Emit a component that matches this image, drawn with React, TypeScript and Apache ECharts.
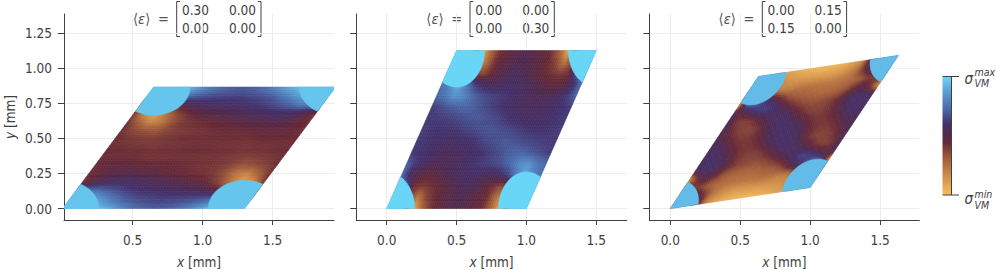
import React, { useEffect, useRef } from "react";
import * as echarts from "echarts";

const xTicks = [
  [0.5, 1.0, 1.5],
  [0.0, 0.5, 1.0, 1.5],
  [0.0, 0.5, 1.0, 1.5],
];
const yTicks = [0, 0.25, 0.5, 0.75, 1.0, 1.25];
const xLimits = [
  [0.01, 1.938],
  [-0.218, 1.718],
  [-0.15, 1.78],
];
const yLimits = [-0.082, 1.387];
const strains = [
  [[0.3, 0.0], [0.0, 0.0]],
  [[0.0, 0.0], [0.0, 0.3]],
  [[0.0, 0.15], [0.15, 0.0]],
];
const inclusionLevel = [96, 100, 94];
const colorStops: [number, string][] = [
  [0, "#f8bf5e"],
  [0.17, "#cc8b48"],
  [0.33, "#9a5538"],
  [0.44, "#662936"],
  [0.52, "#4f2a50"],
  [0.6, "#43306c"],
  [0.72, "#4a66a6"],
  [0.86, "#5a9ad2"],
  [1, "#6ad6f7"],
];

// von Mises stress, percent of the colour scale; rows bottom to top, columns along the cell base
const field0 = [
  [95, 95, 95, 94, 90, 82, 75, 71, 69, 70, 73, 78, 86, 94, 95, 95, 95],
  [92, 92, 90, 84, 76, 70, 67, 65, 64, 65, 66, 68, 72, 78, 90, 92, 92],
  [85, 78, 76, 70, 66, 62, 60, 59, 58, 57, 56, 55, 52, 46, 35, 35, 40],
  [42, 50, 56, 58, 58, 56, 55, 53, 52, 50, 48, 44, 38, 26, 8, 16, 42],
  [42, 46, 49, 50, 50, 49, 48, 46, 45, 43, 42, 40, 34, 22, 18, 30, 42],
  [43, 45, 46, 46, 45, 44, 44, 44, 43, 42, 41, 40, 37, 33, 35, 38, 43],
  [43, 43, 43, 43, 42, 42, 42, 42, 42, 42, 42, 41, 40, 39, 40, 41, 43],
  [43, 43, 42, 42, 41, 42, 42, 43, 43, 43, 42, 42, 41, 42, 42, 43, 43],
  [43, 41, 40, 39, 40, 41, 42, 42, 42, 42, 42, 42, 42, 43, 43, 43, 43],
  [43, 38, 35, 33, 37, 40, 41, 42, 43, 44, 44, 44, 45, 46, 46, 45, 43],
  [42, 30, 18, 22, 34, 40, 42, 43, 45, 46, 48, 49, 50, 50, 49, 46, 42],
  [42, 16, 8, 26, 38, 44, 48, 50, 52, 53, 55, 56, 58, 58, 56, 50, 42],
  [40, 35, 35, 46, 52, 55, 56, 57, 58, 59, 60, 62, 66, 70, 76, 78, 85],
  [92, 92, 90, 78, 72, 68, 66, 65, 64, 65, 67, 70, 76, 84, 90, 92, 92],
  [95, 95, 95, 94, 86, 78, 73, 70, 69, 71, 75, 82, 90, 94, 95, 95, 95],
];
const field1 = [
  [90, 90, 90, 5, 28, 42, 46, 49, 52, 49, 46, 42, 28, 5, 90, 90, 90],
  [90, 88, 40, 22, 38, 44, 48, 50, 53, 50, 47, 42, 25, 10, 60, 88, 90],
  [80, 70, 42, 40, 42, 45, 49, 52, 54, 53, 48, 42, 35, 50, 70, 80, 80],
  [74, 55, 48, 46, 48, 51, 54, 57, 58, 56, 54, 56, 62, 76, 92, 80, 74],
  [72, 62, 57, 54, 53, 54, 56, 58, 61, 63, 65, 68, 74, 82, 84, 76, 72],
  [62, 60, 58, 56, 55, 55, 56, 58, 60, 63, 66, 70, 72, 71, 68, 65, 62],
  [62, 61, 59, 58, 57, 58, 59, 62, 65, 67, 69, 68, 66, 64, 63, 62, 62],
  [63, 61, 60, 60, 61, 63, 65, 67, 68, 67, 65, 63, 61, 60, 60, 61, 63],
  [62, 62, 63, 64, 66, 68, 69, 67, 65, 62, 59, 58, 57, 58, 59, 61, 62],
  [62, 65, 68, 71, 72, 70, 66, 63, 60, 58, 56, 55, 55, 56, 58, 60, 62],
  [72, 76, 84, 82, 74, 68, 65, 63, 61, 58, 56, 54, 53, 54, 57, 62, 72],
  [74, 80, 92, 76, 62, 56, 54, 56, 58, 57, 54, 51, 48, 46, 48, 55, 74],
  [80, 80, 70, 50, 35, 42, 48, 53, 54, 52, 49, 45, 42, 40, 42, 70, 80],
  [90, 88, 60, 10, 25, 42, 47, 50, 53, 50, 48, 44, 38, 22, 40, 88, 90],
  [90, 90, 90, 5, 28, 42, 46, 49, 52, 49, 46, 42, 28, 5, 90, 90, 90],
];
const field2 = [
  [80, 80, 80, 55, 20, 11, 6, 4, 3, 3, 4, 6, 10, 10, 80, 80, 80],
  [80, 80, 60, 45, 26, 18, 14, 12, 12, 12, 13, 14, 15, 20, 80, 80, 80],
  [60, 40, 38, 30, 27, 25, 24, 24, 24, 25, 24, 21, 22, 35, 80, 80, 60],
  [15, 42, 50, 42, 33, 29, 28, 28, 29, 31, 33, 42, 55, 62, 75, 75, 15],
  [54, 58, 58, 52, 43, 38, 36, 35, 37, 42, 50, 57, 64, 64, 55, 44, 54],
  [56, 58, 57, 50, 43, 39, 38, 41, 48, 56, 58, 57, 50, 41, 38, 41, 56],
  [54, 57, 52, 45, 41, 41, 45, 53, 57, 58, 57, 46, 39, 37, 39, 46, 54],
  [52, 50, 44, 40, 40, 44, 52, 57, 58, 57, 52, 44, 40, 40, 44, 50, 52],
  [54, 46, 39, 37, 39, 46, 57, 58, 57, 53, 45, 41, 41, 45, 52, 57, 54],
  [56, 41, 38, 41, 50, 57, 58, 56, 48, 41, 38, 39, 43, 50, 57, 58, 56],
  [54, 44, 55, 64, 64, 57, 50, 42, 37, 35, 36, 38, 43, 52, 58, 58, 54],
  [15, 75, 75, 62, 55, 42, 33, 31, 29, 28, 28, 29, 33, 42, 50, 42, 15],
  [60, 80, 80, 35, 22, 21, 24, 25, 24, 24, 24, 25, 27, 30, 38, 40, 60],
  [80, 80, 80, 20, 15, 14, 13, 12, 12, 12, 14, 18, 26, 45, 60, 80, 80],
  [80, 80, 80, 10, 10, 6, 4, 3, 3, 4, 6, 11, 20, 55, 80, 80, 80],
];
const fields = [field0, field1, field2];
const matrices = [
  ["0.30", "0.00", "0.00", "0.00"],
  ["0.00", "0.00", "0.00", "0.30"],
  ["0.00", "0.15", "0.15", "0.00"],
];

const FONT = "'DejaVu Sans Condensed', 'DejaVu Sans'";
const FS = 13.5;
const INK = "#404040";
const panelLeft = [64, 356.3, 649.3];
const panelWidth = [270, 270.4, 270];
const matrixOffset = [0, 293.3, 585.6];
const inclusionRadius = 0.2;
const shadeSteps = 4;
const sectors = [
  [0, 0, 0, 60],
  [1, 0, 60, 180],
  [1, 1, 180, 240],
  [0, 1, 240, 360],
];

function hex(c: string) {
  return [1, 3, 5].map((k) => parseInt(c.slice(k, k + 2), 16));
}
function colorOf(t: number) {
  const x = Math.max(0, Math.min(1, t));
  for (let k = 1; k < colorStops.length; k++) {
    const [p1, c1] = colorStops[k];
    if (x <= p1) {
      const [p0, c0] = colorStops[k - 1];
      const f = (x - p0) / (p1 - p0);
      const a = hex(c0), b = hex(c1);
      return `rgb(${a.map((v, n) => Math.round(v + (b[n] - v) * f)).join(",")})`;
    }
  }
  return colorStops[colorStops.length - 1][1];
}
function deform(panel: number, u: number, v: number) {
  const x0 = u + 0.5 * v;
  const y0 = 0.8660254 * v;
  const e = strains[panel];
  return [x0 + e[0][0] * x0 + e[0][1] * y0, y0 + e[1][0] * x0 + e[1][1] * y0];
}

function buildOption() {
  const grid: any[] = [], xAxis: any[] = [], yAxis: any[] = [], series: any[] = [];
  const graphic: any[] = [];
  for (let p = 0; p < 3; p++) {
    grid.push({ left: panelLeft[p], width: panelWidth[p], top: 14, height: 206, outerBoundsMode: "none" });
    xAxis.push({
      type: "value", gridIndex: p, min: xLimits[p][0], max: xLimits[p][1],
      name: "{i|x} [mm]", nameLocation: "middle", nameGap: 35,
      nameTextStyle: { fontFamily: FONT, fontSize: FS, color: INK, rich: { i: { fontStyle: "italic", fontFamily: FONT, fontSize: FS, color: INK } } },
      axisLine: { show: true, onZero: false, lineStyle: { color: INK, width: 1 } },
      axisTick: { show: true, length: 5, customValues: xTicks[p], lineStyle: { color: INK } },
      axisLabel: { customValues: xTicks[p], fontFamily: FONT, fontSize: FS, color: INK, margin: 13, formatter: (v: number) => v.toFixed(1) },
      splitLine: { show: true, lineStyle: { color: "#ececec", width: 1 } },
    });
    yAxis.push({
      type: "value", gridIndex: p, min: yLimits[0], max: yLimits[1],
      name: p === 0 ? "{i|y} [mm]" : "", nameLocation: "middle", nameGap: 47, nameRotate: 90,
      nameTextStyle: { fontFamily: FONT, fontSize: FS, color: INK, rich: { i: { fontStyle: "italic", fontFamily: FONT, fontSize: FS, color: INK } } },
      axisLine: { show: true, onZero: false, lineStyle: { color: INK, width: 1 } },
      axisTick: { show: true, length: 6, customValues: yTicks, lineStyle: { color: INK } },
      axisLabel: { show: p === 0, customValues: yTicks, fontFamily: FONT, fontSize: FS, color: INK, margin: 12, formatter: (v: number) => v.toFixed(2) },
      splitLine: { show: true, lineStyle: { color: "#ececec", width: 1 } },
    });
    const rows = fields[p];
    const nv = rows.length - 1, nu = rows[0].length - 1;
    const cells: number[][] = [];
    for (let j = 0; j < nv; j++)
      for (let i = 0; i < nu; i++)
        cells.push([i, j, rows[j][i], rows[j][i + 1], rows[j + 1][i], rows[j + 1][i + 1]]);
    series.push({
      type: "custom", xAxisIndex: p, yAxisIndex: p, clip: true, silent: true, data: cells,
      encode: { x: 0, y: 1 },
      renderItem: (_: any, api: any) => {
        const i = api.value(0), j = api.value(1);
        const v00 = api.value(2), v10 = api.value(3), v01 = api.value(4), v11 = api.value(5);
        const P = (a: number, b: number) => api.coord(deform(p, a / nu, b / nv));
        const children: any[] = [];
        for (let b = 0; b < shadeSteps; b++) {
          for (let a = 0; a < shadeSteps; a++) {
            const s0 = a / shadeSteps, s1 = (a + 1) / shadeSteps;
            const t0 = b / shadeSteps, t1 = (b + 1) / shadeSteps;
            const sm = (s0 + s1) / 2, tm = (t0 + t1) / 2;
            const val = (v00 * (1 - sm) + v10 * sm) * (1 - tm) + (v01 * (1 - sm) + v11 * sm) * tm;
            const col = colorOf(val / 100);
            children.push({
              type: "polygon",
              shape: { points: [P(i + s0, j + t0), P(i + s1, j + t0), P(i + s1, j + t1), P(i + s0, j + t1)] },
              style: { fill: col, stroke: col, lineWidth: 0.6 },
            });
          }
        }
        return { type: "group", children };
      },
    });
    series.push({
      type: "custom", xAxisIndex: p, yAxisIndex: p, clip: true, silent: true, data: sectors,
      encode: { x: 0, y: 1 },
      renderItem: (_: any, api: any) => {
        const cu = api.value(0), cv = api.value(1), a0 = api.value(2), a1 = api.value(3);
        const e = strains[p];
        const cx = cu + 0.5 * cv, cy = 0.8660254 * cv;
        const toPix = (x0: number, y0: number) =>
          api.coord([x0 + e[0][0] * x0 + e[0][1] * y0, y0 + e[1][0] * x0 + e[1][1] * y0]);
        const pts = [toPix(cx, cy)];
        for (let a = a0; a <= a1 + 0.01; a += 4) {
          const t = (a * Math.PI) / 180;
          pts.push(toPix(cx + inclusionRadius * Math.cos(t), cy + inclusionRadius * Math.sin(t)));
        }
        const col = colorOf(inclusionLevel[p] / 100);
        return { type: "polygon", shape: { points: pts }, style: { fill: col, stroke: col, lineWidth: 0.5 } };
      },
    });
    // matrix annotation
    const dx = matrixOffset[p];
    const m = matrices[p];
    const cellText = (t: string, x: number, y: number) => ({
      type: "text", x: x + dx, y, silent: true,
      style: { text: t, fontFamily: FONT, fontSize: FS, fill: INK, textAlign: "left", textVerticalAlign: "middle" },
    });
    graphic.push(cellText(m[0], 182, 9.5), cellText(m[1], 229, 9.5), cellText(m[2], 182, 27.7), cellText(m[3], 229, 27.7));
    graphic.push({
      type: "text", x: 133 + dx, y: 19, silent: true,
      style: {
        text: "⟨{e|ε}⟩",
        rich: { e: { fontStyle: "italic", fontFamily: FONT, fontSize: FS + 1, fill: "#555" } },
        fontFamily: FONT, fontSize: FS + 1, fill: "#555", textAlign: "left", textVerticalAlign: "middle",
      },
    });
    graphic.push({
      type: "text", x: 158 + dx, y: 19, silent: true,
      style: { text: "=", fontFamily: FONT, fontSize: FS + 1, fill: "#555", textAlign: "left", textVerticalAlign: "middle" },
    });
    graphic.push({
      type: "polyline", silent: true,
      shape: { points: [[180 + dx, 1.5], [176.7 + dx, 1.5], [176.7 + dx, 36.5], [180 + dx, 36.5]] },
      style: { stroke: INK, lineWidth: 1, fill: "none" },
    });
    graphic.push({
      type: "polyline", silent: true,
      shape: { points: [[257.8 + dx, 1.5], [261 + dx, 1.5], [261 + dx, 36.5], [257.8 + dx, 36.5]] },
      style: { stroke: INK, lineWidth: 1, fill: "none" },
    });
  }
  // colour bar
  const barStops = [...colorStops].reverse().map(([o, c]) => ({ offset: 1 - o, color: c }));
  graphic.push({
    type: "rect", silent: true, shape: { x: 942.5, y: 76.5, width: 9, height: 118.5 },
    style: { fill: new echarts.graphic.LinearGradient(0, 0, 0, 1, barStops) },
  });
  graphic.push({
    type: "polyline", silent: true,
    shape: { points: [[942.5, 76.5], [959, 76.5]] }, style: { stroke: INK, lineWidth: 1, fill: "none" },
  });
  graphic.push({
    type: "polyline", silent: true,
    shape: { points: [[942.5, 195], [959, 195]] }, style: { stroke: INK, lineWidth: 1, fill: "none" },
  });
  graphic.push({
    type: "polyline", silent: true,
    shape: { points: [[951.5, 76.5], [951.5, 195]] }, style: { stroke: INK, lineWidth: 1, fill: "none" },
  });
  const label = (t: string, x: number, y: number, size: number) => ({
    type: "text", x, y, silent: true,
    style: { text: t, fontFamily: FONT, fontStyle: "italic", fontSize: size, fill: INK, textAlign: "left", textVerticalAlign: "middle" },
  });
  graphic.push(label("σ", 964.5, 79, 15), label("max", 974.5, 71.5, 10.5), label("VM", 974.5, 83, 10.5));
  graphic.push(label("σ", 964.5, 199, 15), label("min", 974.5, 193.5, 10.5), label("VM", 974.5, 204.5, 10.5));
  return { animation: false, backgroundColor: "#ffffff", grid, xAxis, yAxis, series, graphic };
}

export default function App() {
  const ref = useRef<HTMLDivElement>(null);
  useEffect(() => {
    document.body.style.margin = "0";
    const chart = echarts.init(ref.current!, undefined, { renderer: "svg" });
    chart.setOption(buildOption() as any);
    return () => chart.dispose();
  }, []);
  return <div ref={ref} style={{ width: 996, height: 270 }} />;
}
